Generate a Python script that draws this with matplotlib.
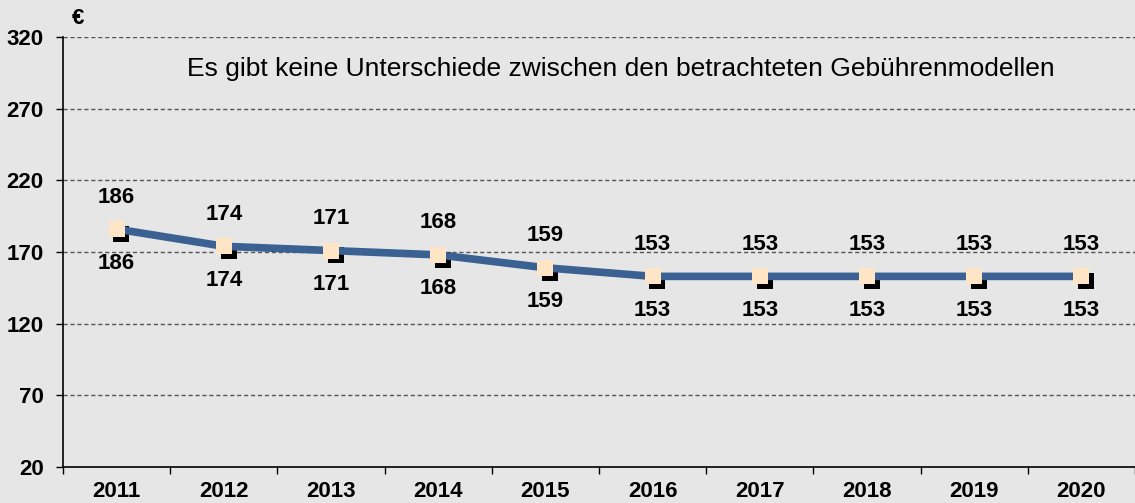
import matplotlib
matplotlib.use('Agg')
import matplotlib.pyplot as plt
from matplotlib.transforms import offset_copy

years = ["2011", "2012", "2013", "2014", "2015", "2016", "2017", "2018", "2019", "2020"]
values = [186, 174, 171, 168, 159, 153, 153, 153, 153, 153]
y_ticks = [20, 70, 120, 170, 220, 270, 320]

plt.rcParams['font.family'] = ['Liberation Sans', 'DejaVu Sans']
bg = "#e6e6e6"

fig = plt.figure(figsize=(11.35, 5.03), dpi=100, facecolor=bg)
ax = fig.add_axes([63 / 1135, 1 - 467 / 503, 1 - 63 / 1135, 430 / 503])
ax.set_facecolor(bg)

x = list(range(len(years)))
ax.set_xlim(-0.5, len(years) - 0.5)
ax.set_ylim(20, 320)

# grid
for yv in y_ticks[1:]:
    ax.axhline(yv, color="#555555", linestyle=(0, (3, 2)), linewidth=1.0, zorder=1)

# line + markers with shadow
ax.plot(x, values, color="#3a6191", linewidth=5.5, solid_capstyle="butt", zorder=3)
shadow = offset_copy(ax.transData, fig=fig, x=3.5, y=-3.5, units='points')
ax.plot(x, values, linestyle="none", marker="s", markersize=12,
        color="black", markeredgewidth=0, transform=shadow, zorder=2)
ax.plot(x, values, linestyle="none", marker="s", markersize=12,
        color="#fde5c6", markeredgewidth=0, zorder=4)

for xi, v in zip(x, values):
    ax.annotate(str(v), (xi, v), xytext=(0, 23), textcoords="offset points",
                ha="center", va="center", fontsize=16, fontweight="bold")
    ax.annotate(str(v), (xi, v), xytext=(0, -24.5), textcoords="offset points",
                ha="center", va="center", fontsize=16, fontweight="bold")

ax.text(0.52, 0.925, "Es gibt keine Unterschiede zwischen den betrachteten Gebührenmodellen",
        transform=ax.transAxes, ha="center", va="center", fontsize=19)
fig.text(78 / 1135, 1 - 19 / 503, "€", ha="center", va="center",
         fontsize=16, fontweight="bold")

# axes styling
for s in ["top", "right"]:
    ax.spines[s].set_visible(False)
ax.spines["left"].set_linewidth(1.2)
ax.spines["bottom"].set_linewidth(1.2)

ax.set_yticks(y_ticks)
ax.set_yticklabels([str(t) for t in y_ticks], fontsize=16, fontweight="bold")
ax.tick_params(axis="y", length=5, width=1, pad=9)

ax.set_xticks([i + 0.5 for i in range(-1, len(years))])
ax.set_xticklabels([])
ax.tick_params(axis="x", length=5, width=1, direction="out")
ax.set_xticks(x, minor=True)
ax.set_xticklabels(years, minor=True, fontsize=16, fontweight="bold")
ax.tick_params(axis="x", which="minor", length=0, pad=10)

plt.savefig("out.png", dpi=100, facecolor=bg)
